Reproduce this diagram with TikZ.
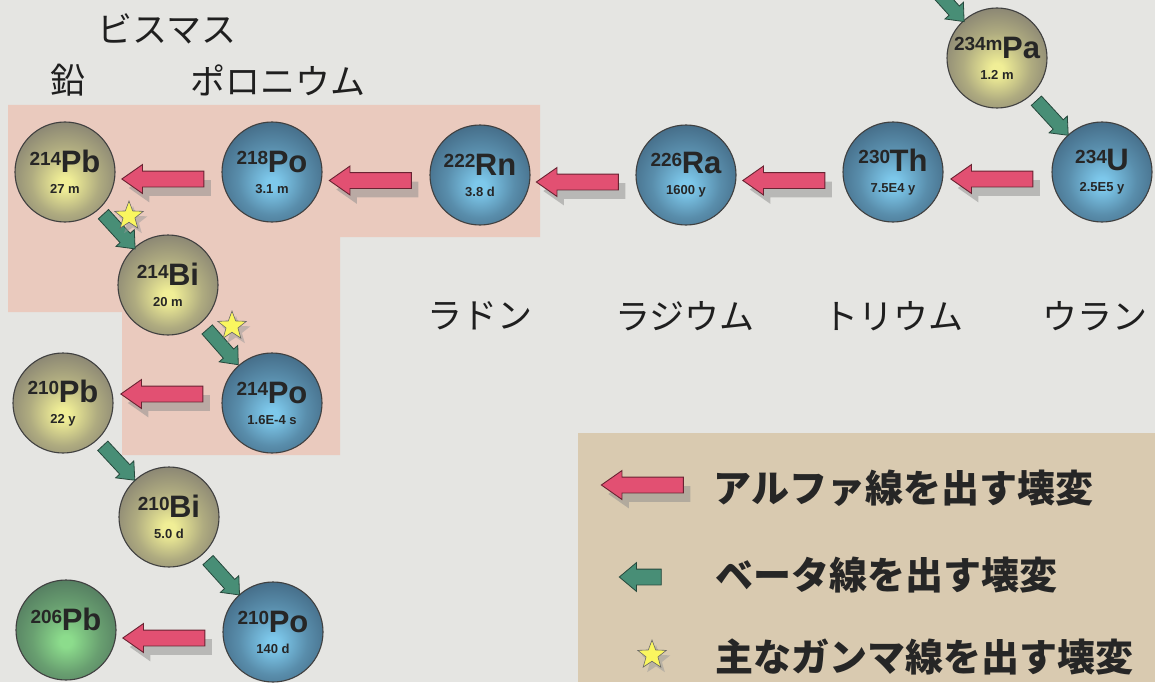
\documentclass[tikz,border=0pt]{standalone}
\usepackage{fontspec}
\setmainfont{Liberation Sans}
\newfontfamily\jp{Noto Sans CJK JP}
\usetikzlibrary{positioning,shapes.arrows,shapes.geometric,shadows}

\definecolor{paper}{RGB}{229,229,226}
\definecolor{pinkarea}{RGB}{234,202,190}
\definecolor{legendtan}{RGB}{217,202,176}
\definecolor{alphapink}{RGB}{226,80,114}
\definecolor{alphaedge}{RGB}{105,35,50}
\definecolor{betagreen}{RGB}{72,142,118}
\definecolor{betaedge}{RGB}{38,72,60}
\definecolor{staryellow}{RGB}{250,246,95}
\definecolor{grayin}{RGB}{240,238,150}
\definecolor{grayout}{RGB}{122,117,110}
\definecolor{bluein}{RGB}{125,200,235}
\definecolor{blueout}{RGB}{60,94,120}
\definecolor{greenin}{RGB}{140,220,140}
\definecolor{greenout}{RGB}{76,110,90}

\pgfdeclareradialshading[sphin,sphout]{sphere}{\pgfpoint{0bp}{-6bp}}{%
  color(0bp)=(sphin); color(3bp)=(sphin); color(17bp)=(sphin!45!sphout); color(34bp)=(sphout);
  color(50bp)=(sphout!75!black); color(60bp)=(sphout!75!black)}

\newcommand{\nuclide}[3]{\raisebox{7.5pt}{\fontsize{19}{19}\selectfont #1}\kern-0.5pt{\fontsize{31}{31}\selectfont #2}\\[9pt]{\fontsize{13}{14}\selectfont #3}}

\begin{document}
\begin{tikzpicture}[
    x=1pt, y=-1pt,
    sph in/.code={\colorlet{sphin}{#1}},
    sph out/.code={\colorlet{sphout}{#1}},
    ball/.style={circle, minimum size=100pt, inner sep=0pt, draw=black!75, line width=1.1pt,
        shade, shading=sphere, align=center, text=black!85, font=\fontsize{10}{12}\selectfont\bfseries},
    grayball/.style={sph in=grayin, sph out=grayout, ball},
    blueball/.style={sph in=bluein, sph out=blueout, ball},
    greenball/.style={sph in=greenin, sph out=greenout, ball},
    alphaarrow/.style={single arrow, shape border rotate=180, draw=alphaedge, line width=0.9pt, fill=alphapink,
        minimum height=82pt, inner sep=7.5pt, single arrow head extend=6.5pt, single arrow tip angle=70,
        drop shadow={shadow xshift=7pt, shadow yshift=-9pt, fill=black!45}},
    betaarrow/.style={single arrow, draw=betaedge, line width=0.8pt, fill=betagreen,
        minimum height=47pt, inner sep=6.5pt, single arrow head extend=5.5pt, single arrow tip angle=80},
    gammastar/.style={star, star points=5, star point ratio=2.4, minimum size=30pt, inner sep=0pt,
        draw=black!60, line width=0.6pt, fill=staryellow, drop shadow={shadow xshift=4pt, shadow yshift=-5pt, fill=black!40}},
    elname/.style={font=\jp\fontsize{35}{38}\selectfont, text=black!88},
    legtext/.style={anchor=west, font=\jp\bfseries\fontsize{38}{40}\selectfont, text=black!85}
]
\useasboundingbox (0,0) rectangle (1155,682);
\clip (0,0) rectangle (1155,682);
\fill[paper] (0,0) rectangle (1155,682);
\fill[pinkarea] (8,105) -- (540,105) -- (540,237) -- (340,237) -- (340,455) -- (122,455) -- (122,312) -- (8,312) -- cycle;
\fill[legendtan] (578,433) rectangle (1155,682);

\node[grayball] (pb214) at (65,172) {\nuclide{214}{Pb}{27 m}};
\node[blueball] (po218) at (272,172) {\nuclide{218}{Po}{3.1 m}};
\node[blueball] (rn222) at (480,175) {\nuclide{222}{Rn}{3.8 d}};
\node[blueball] (ra226) at (686,175) {\nuclide{226}{Ra}{1600 y}};
\node[blueball] (th230) at (893,172) {\nuclide{230}{Th}{7.5E4 y}};
\node[blueball] (u234) at (1102,172) {\nuclide{234}{U}{2.5E5 y}};
\node[grayball] (pa234m) at (997,58) {\nuclide{234m}{Pa}{1.2 m}};
\node[grayball] (bi214) at (168,285) {\nuclide{214}{Bi}{20 m}};
\node[blueball] (po214) at (272,403) {\nuclide{214}{Po}{1.6E-4 s}};
\node[grayball] (pb210) at (63,403) {\nuclide{210}{Pb}{22 y}};
\node[grayball] (bi210) at (169,517) {\nuclide{210}{Bi}{5.0 d}};
\node[blueball] (po210) at (273,632) {\nuclide{210}{Po}{140 d}};
\node[greenball] (pb206) at (66,630) {\nuclide{206}{Pb}{~}};
\coordinate (th234) at (893,-57);

\path (po218) -- (pb214) node[midway, alphaarrow, yshift=-7pt] (a1) {};
\path (rn222) -- (po218) node[midway, alphaarrow, yshift=-7pt] (a2) {};
\path (ra226) -- (rn222) node[midway, alphaarrow, yshift=-7pt] (a3) {};
\path (th230) -- (ra226) node[midway, alphaarrow, yshift=-7pt] (a4) {};
\path (u234) -- (th230) node[midway, alphaarrow, yshift=-7pt] (a5) {};
\path (po214) -- (pb210) node[midway, alphaarrow, yshift=9pt] (a6) {};
\path (po210) -- (pb206) node[midway, alphaarrow, yshift=-7pt] (a7) {};

\path (th234) -- (pa234m) node[pos=0.75, sloped, betaarrow] (b0) {};
\path (pa234m) -- (u234) node[midway, sloped, betaarrow] (b1) {};
\path (pb214) -- (bi214) node[midway, sloped, betaarrow] (b2) {};
\path (bi214) -- (po214) node[midway, sloped, betaarrow] (b3) {};
\path (pb210) -- (bi210) node[midway, sloped, betaarrow] (b4) {};
\path (bi210) -- (po210) node[midway, sloped, betaarrow] (b5) {};

\node[gammastar] (g1) at (129,216) {};
\node[gammastar] (g2) at (232,326) {};

\node[elname] (nbi) at (167,29) {ビスマス};
\node[elname] (npb) at (68,80) {鉛};
\node[elname] (npo) at (278,80) {ポロニウム};
\node[elname] (nrn) at (480,316) {ラドン};
\node[elname] (nra) at (685,316) {ラジウム};
\node[elname] (nth) at (893,316) {トリウム};
\node[elname] (nu) at (1095,316) {ウラン};

\node[alphaarrow] (lga) at (648,485) {};
\node[betaarrow, shape border rotate=180, minimum height=42pt, inner sep=7.5pt, single arrow head extend=6.5pt] (lgb) at (645,577) {};
\node[gammastar] (lgg) at (652,655) {};
\node[legtext] (ta) at (710,488) {アルファ線を出す壊変};
\node[legtext] (tb) at (712,575) {ベータ線を出す壊変};
\node[legtext] (tg) at (712,657) {主なガンマ線を出す壊変};
\end{tikzpicture}
\end{document}
